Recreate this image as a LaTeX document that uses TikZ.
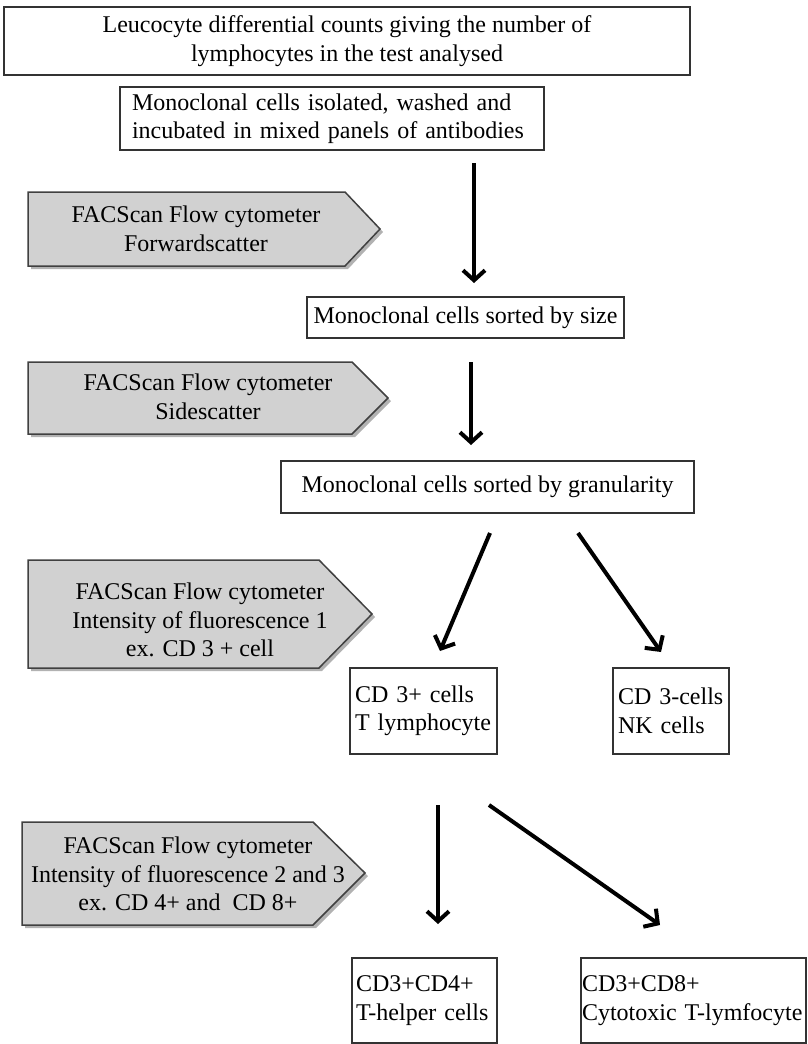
\documentclass[tikz,border=0pt]{standalone}
\usepackage{fontspec}
\setmainfont{Liberation Serif}
\usetikzlibrary{arrows.meta}
\begin{document}
\begin{tikzpicture}[x=1pt,y=-1pt,
  box/.style={draw=black!80, line width=1.5pt, fill=white, inner sep=0pt,
    font=\fontsize{24}{28.5}\selectfont},
  lbox/.style={box, align=left},
  facs/.style={draw=black!75, line width=1.5pt, fill=black!18},
  facsshadow/.style={fill=black!30},
  facstext/.style={align=center, inner sep=0pt, font=\fontsize{24}{28.5}\selectfont},
  arr/.style={line width=4pt, -{Straight Barb[length=10pt,width=22pt]}}]
\useasboundingbox (0,0) rectangle (808,1044);

% boxes
\node[box, align=center, minimum width=686pt, minimum height=68pt] (count) at (347,41)
  {Leucocyte differential counts giving the number of\\lymphocytes in the test analysed};
\node[lbox, text width=400pt, inner xsep=12pt, minimum height=63pt] (incub) at (332,118.5)
  {Monoclonal cells isolated, washed and\\incubated in mixed panels of antibodies};
\node[box, minimum width=317pt, minimum height=41pt] (size) at (465.5,317.5)
  {Monoclonal cells sorted by size};
\node[box, minimum width=413pt, minimum height=52pt] (gran) at (487.5,487)
  {Monoclonal cells sorted by granularity};
\node[lbox, text width=137pt, inner xsep=5pt, minimum height=86pt] (cdplus) at (423.5,711)
  {CD 3+ cells\\T lymphocyte};
\node[lbox, text width=106pt, inner xsep=5pt, minimum height=86pt] (cdminus) at (671,711)
  {CD 3-cells\\NK cells};
\node[lbox, text width=137pt, inner xsep=4pt, minimum height=85pt] (helper) at (424.5,1000.5)
  {CD3+CD4+\\T-helper cells};
\node[lbox, text width=223pt, inner xsep=1pt, minimum height=85pt] (cyto) at (693.5,1000.5)
  {CD3+CD8+\\Cytotoxic T-lymfocyte};

% FACScan labels
\fill[facsshadow] (31,195) -- (348,195) -- (383,232) -- (348,269) -- (31,269) -- cycle;
\filldraw[facs] (28,192) -- (345,192) -- (380,229) -- (345,266) -- (28,266) -- cycle;
\node[facstext] (fwd) at (196,229) {FACScan Flow cytometer\\Forwardscatter};

\fill[facsshadow] (31,365) -- (355,365) -- (391,401) -- (355,437) -- (31,437) -- cycle;
\filldraw[facs] (28,362) -- (352,362) -- (388,398) -- (352,434) -- (28,434) -- cycle;
\node[facstext] (side) at (208,397) {FACScan Flow cytometer\\Sidescatter};

\fill[facsshadow] (31,563) -- (322,563) -- (375,617) -- (322,671) -- (31,671) -- cycle;
\filldraw[facs] (28,560) -- (319,560) -- (372,614) -- (319,668) -- (28,668) -- cycle;
\node[facstext] (fl1) at (200,620)
  {FACScan Flow cytometer\\Intensity of fluorescence 1\\ex. CD 3 + cell};

\fill[facsshadow] (25,825) -- (316,825) -- (368,876) -- (316,928) -- (25,928) -- cycle;
\filldraw[facs] (22,822) -- (313,822) -- (365,873) -- (313,925) -- (22,925) -- cycle;
\node[facstext] (fl23) at (188,874)
  {FACScan Flow cytometer\\Intensity of fluorescence 2 and 3\\ex. CD 4+ and\ \ CD 8+};

% arrows
\coordinate (s1) at (474,163);   \coordinate (e1) at (474,283);
\coordinate (s2) at (471,362);   \coordinate (e2) at (471,445);
\coordinate (s3) at (490,533);   \coordinate (e3) at (440,651);
\coordinate (s4) at (578,533);   \coordinate (e4) at (661,652);
\coordinate (s5) at (438,805);   \coordinate (e5) at (438,924);
\coordinate (s6) at (489,805);   \coordinate (e6) at (660,925);
\draw[arr] (s1) -- (e1);
\draw[arr] (s2) -- (e2);
\draw[arr] (s3) -- (e3);
\draw[arr] (s4) -- (e4);
\draw[arr] (s5) -- (e5);
\draw[arr] (s6) -- (e6);
\end{tikzpicture}
\end{document}
